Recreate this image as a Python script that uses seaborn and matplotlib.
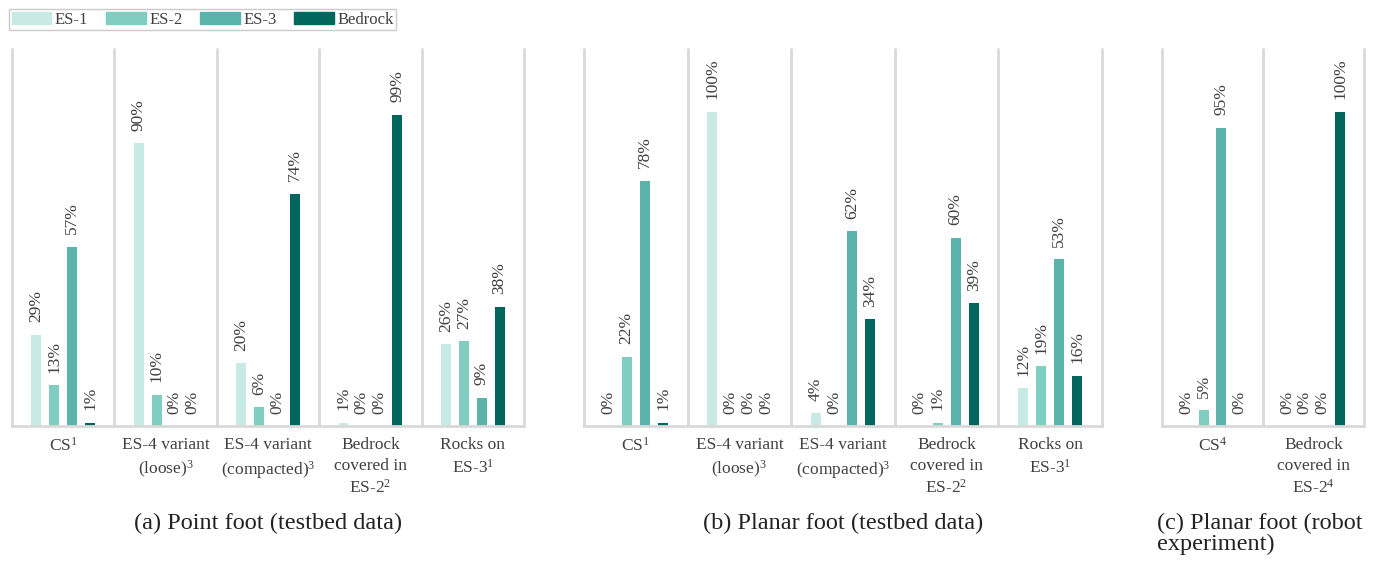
import matplotlib
matplotlib.use('Agg')
import matplotlib.pyplot as plt
import pandas as pd
import seaborn as sns

SURFACES = ['ES-1', 'ES-2', 'ES-3', 'Bedrock']
COLORS = ['#c7eae5', '#80cdc1', '#5ab4ac', '#01665e']

LABELS_AB = ['CS$^{1}$', 'ES-4 variant\n(loose)$^{3}$', 'ES-4 variant\n(compacted)$^{3}$',
             'Bedrock\ncovered in\nES-2$^{2}$', 'Rocks on\nES-3$^{1}$']
LABELS_C = ['CS$^{4}$', 'Bedrock\ncovered in\nES-2$^{4}$']

# percentages per terrain: ES-1, ES-2, ES-3, Bedrock
point_es1 = [29, 90, 20, 1, 26]
point_es2 = [13, 10, 6, 0, 27]
point_es3 = [57, 0, 0, 0, 9]
point_bed = [1, 0, 74, 99, 38]

planar_es1 = [0, 100, 4, 0, 12]
planar_es2 = [22, 0, 0, 1, 19]
planar_es3 = [78, 0, 62, 60, 53]
planar_bed = [1, 0, 34, 39, 16]

robot_es1 = [0, 0]
robot_es2 = [5, 0]
robot_es3 = [95, 0]
robot_bed = [0, 100]

CAPTIONS = ['(a) Point foot (testbed data)', '(b) Planar foot (testbed data)',
            '(c) Planar foot (robot\nexperiment)']


def to_long(labels, es1, es2, es3, bed):
    rows = []
    for series, vals in zip(SURFACES, [es1, es2, es3, bed]):
        for lab, v in zip(labels, vals):
            rows.append({'terrain': lab, 'surface': series, 'pct': v})
    return pd.DataFrame(rows)


sns.set_style('white')
plt.rcParams['font.family'] = ['Liberation Serif', 'DejaVu Serif']
plt.rcParams['mathtext.fontset'] = 'custom'
plt.rcParams['mathtext.rm'] = 'Liberation Serif'
plt.rcParams['mathtext.it'] = 'Liberation Serif:italic'
plt.rcParams['mathtext.default'] = 'rm'

GRID = '#d9d9d9'
TXT = '#404040'

fig = plt.figure(figsize=(13.8, 5.61), dpi=100)
bottom, height = 1 - 426 / 561, (426 - 49) / 561
panels = [
    (12 / 1380, 512 / 1380, to_long(LABELS_AB, point_es1, point_es2, point_es3, point_bed), LABELS_AB),
    (584 / 1380, 518 / 1380, to_long(LABELS_AB, planar_es1, planar_es2, planar_es3, planar_bed), LABELS_AB),
    (1162 / 1380, 202 / 1380, to_long(LABELS_C, robot_es1, robot_es2, robot_es3, robot_bed), LABELS_C),
]

axes = []
for left, width, df, labels in panels:
    ax = fig.add_axes([left, bottom, width, height])
    sns.barplot(data=df, x='terrain', y='pct', hue='surface', hue_order=SURFACES,
                order=labels, palette=COLORS, saturation=1, width=0.7, gap=0.45,
                errorbar=None, linewidth=0, legend=False, ax=ax)
    n = len(labels)
    ax.set_xlim(-0.5, n - 0.5)
    ax.set_ylim(0, 120)
    for xv in range(n + 1):
        ax.axvline(xv - 0.5, color=GRID, lw=2, clip_on=False, zorder=0)
    for s in ['left', 'right', 'top']:
        ax.spines[s].set_visible(False)
    ax.spines['bottom'].set_color(GRID)
    ax.spines['bottom'].set_linewidth(2)
    ax.set_yticks([])
    ax.set_xticks(range(n))
    ax.set_xticklabels(labels, fontsize=12.5, color=TXT, linespacing=1.38)
    ax.tick_params(axis='x', length=0, pad=8)
    ax.set_xlabel('')
    ax.set_ylabel('')
    for cont in ax.containers:
        ax.bar_label(cont, labels=[f'{v:.0f}%' for v in cont.datavalues],
                     rotation=90, padding=9, fontsize=12.5, color=TXT)
    axes.append(ax)

# sub-captions
fig.text((12 + 524) / 2 / 1380, 1 - 523 / 561, CAPTIONS[0], ha='center', va='center',
         fontsize=17.5, color='#222222')
fig.text((584 + 1102) / 2 / 1380, 1 - 523 / 561, CAPTIONS[1], ha='center', va='center',
         fontsize=17.5, color='#222222')
fig.text(1157 / 1380, 1 - 513 / 561, CAPTIONS[2], ha='left', va='top',
         fontsize=17.5, color='#222222', linespacing=1.0)

handles = [plt.Rectangle((0, 0), 1, 1, color=c) for c in COLORS]
fig.legend(handles, SURFACES, loc='upper left', bbox_to_anchor=(9 / 1380, 1 - 9 / 561),
           ncol=4, fontsize=12, frameon=True, fancybox=False, edgecolor='#bfbfbf',
           labelcolor=TXT, handlelength=2.4, handleheight=0.7, handletextpad=0.2,
           columnspacing=1.05, borderpad=0.15, borderaxespad=0)

fig.savefig('out.png', dpi=100)
